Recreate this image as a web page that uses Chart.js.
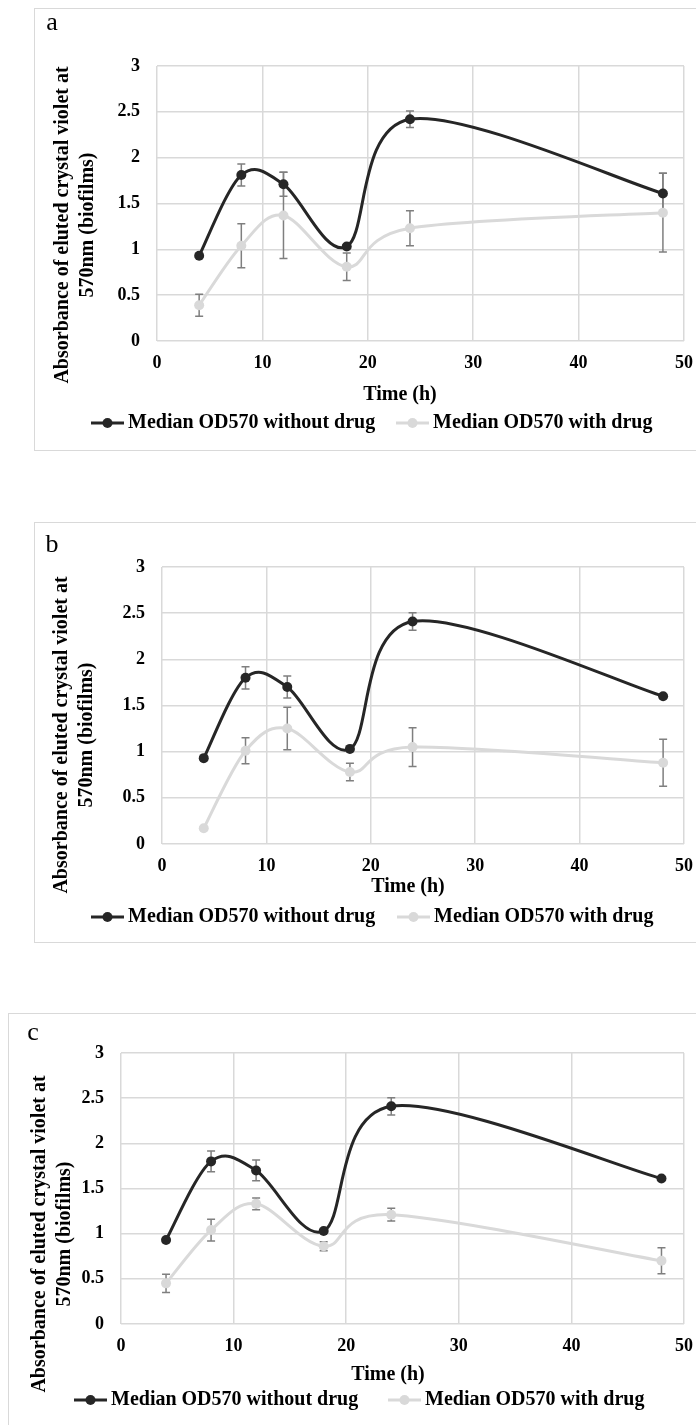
<!DOCTYPE html>
<html>
<head>
<meta charset="utf-8">
<script src="https://cdn.jsdelivr.net/npm/chart.js@4.4.0/dist/chart.umd.min.js"></script>
<style>
  html, body { margin: 0; padding: 0; background: #fff; overflow: hidden; }
  body { width: 696px; height: 1425px; position: relative; }
  .frame { position: absolute; border: 1.5px solid #d9d9d9; box-sizing: border-box; }
  canvas { position: absolute; }
</style>
</head>
<body>
<div class="frame" style="left:34px;top:8px;width:700px;height:443px"></div>
<canvas id="chartA" width="676" height="442" style="left:34px;top:8px"></canvas>
<div class="frame" style="left:34px;top:522px;width:700px;height:421px"></div>
<canvas id="chartB" width="676" height="420" style="left:34px;top:522px"></canvas>
<div class="frame" style="left:8px;top:1013px;width:720px;height:500px"></div>
<canvas id="chartC" width="702" height="420" style="left:8px;top:1013px"></canvas>

<script>
// sampling times (h) and axis ticks
const hours = [4, 8, 12, 18, 24, 48];
const xTicks = [0, 10, 20, 30, 40, 50];
const yTicks = [0, 0.5, 1, 1.5, 2, 2.5, 3];

const seriesNames = ['Median OD570 without drug', 'Median OD570 with drug'];
const yTitleLines = ['Absorbance of eluted crystal violet at', '570nm (biofilms)'];
const xTitle = 'Time (h)';

// panel a
const noDrugA = [0.93, 1.81, 1.71, 1.03, 2.42, 1.61];
const noDrugErrA = [0, 0.12, 0.13, 0, 0.09, 0.22];
const drugA = [0.39, 1.04, 1.37, 0.81, 1.23, 1.40];
const drugErrA = [0.12, 0.24, 0.47, 0.15, 0.19, 0.43];

// panel b
const noDrugB = [0.93, 1.80, 1.70, 1.03, 2.41, 1.60];
const noDrugErrB = [0, 0.12, 0.12, 0, 0.095, 0];
const drugB = [0.17, 1.01, 1.25, 0.78, 1.05, 0.88];
const drugErrB = [0, 0.14, 0.23, 0.095, 0.21, 0.255];

// panel c
const noDrugC = [0.93, 1.80, 1.70, 1.03, 2.41, 1.61];
const noDrugErrC = [0, 0.115, 0.115, 0, 0.095, 0];
const drugC = [0.45, 1.04, 1.33, 0.86, 1.21, 0.70];
const drugErrC = [0.10, 0.12, 0.065, 0.05, 0.07, 0.145];

const SERIF = '"Liberation Serif", "Times New Roman", serif';
const DARK = '#262626';
const LIGHT = '#d9d9d9';
const GRID = '#d9d9d9';

// spreadsheet-style smoothing: each control point sits 1/6 of the
// neighbour-to-neighbour chord away from its point (ends reuse themselves)
const smoothLinePlugin = {
  id: 'smoothLine',
  beforeDatasetDraw(chart, args) {
    const meta = args.meta;
    const line = meta.dataset;
    const pts = meta.data;
    if (!line || pts.length < 2) return;
    line.updateControlPoints(chart.chartArea, 'x');
    pts.forEach((p, i) => {
      const prev = pts[i - 1] || p;
      const next = pts[i + 1] || p;
      const dx = (next.x - prev.x) / 6;
      const dy = (next.y - prev.y) / 6;
      p.cp1x = p.x - dx; p.cp1y = p.y - dy;
      p.cp2x = p.x + dx; p.cp2y = p.y + dy;
    });
    line._path = undefined;
  }
};

// vertical error bars with caps, drawn under the series
const errorBarPlugin = {
  id: 'errorBars',
  beforeDatasetsDraw(chart) {
    const { ctx, scales: { x, y } } = chart;
    ctx.save();
    ctx.strokeStyle = '#7f7f7f';
    ctx.lineWidth = 1.5;
    chart.data.datasets.forEach(ds => {
      (ds.errors || []).forEach((e, i) => {
        if (!e) return;
        const pt = ds.data[i];
        const px = x.getPixelForValue(pt.x);
        const top = y.getPixelForValue(pt.y + e);
        const bot = y.getPixelForValue(pt.y - e);
        ctx.beginPath();
        ctx.moveTo(px, top); ctx.lineTo(px, bot);
        ctx.moveTo(px - 4, top); ctx.lineTo(px + 4, top);
        ctx.moveTo(px - 4, bot); ctx.lineTo(px + 4, bot);
        ctx.stroke();
      });
    });
    ctx.restore();
  }
};

// panel letter, axis titles and the line+marker legend
const panelTextPlugin = {
  id: 'panelText',
  afterDraw(chart, args, opts) {
    const ctx = chart.ctx;
    ctx.save();
    ctx.fillStyle = '#000';
    ctx.textBaseline = 'middle';
    ctx.textAlign = 'center';

    ctx.font = `26px ${SERIF}`;
    ctx.fillText(opts.letter, opts.letterPos[0], opts.letterPos[1]);

    ctx.font = `bold 20px ${SERIF}`;
    yTitleLines.forEach((line, i) => {
      ctx.save();
      ctx.translate(opts.yTitleX[i], opts.yTitleY);
      ctx.rotate(-Math.PI / 2);
      ctx.fillText(line, 0, 0);
      ctx.restore();
    });
    ctx.fillText(xTitle, opts.xTitlePos[0], opts.xTitlePos[1]);

    ctx.textAlign = 'left';
    chart.data.datasets.forEach((ds, i) => {
      const x0 = opts.legendX[i];
      const ly = opts.legendY;
      ctx.strokeStyle = ds.borderColor;
      ctx.lineWidth = 3;
      ctx.beginPath();
      ctx.moveTo(x0, ly);
      ctx.lineTo(x0 + 33, ly);
      ctx.stroke();
      ctx.fillStyle = ds.borderColor;
      ctx.beginPath();
      ctx.arc(x0 + 16.5, ly, 5, 0, Math.PI * 2);
      ctx.fill();
      ctx.fillStyle = '#000';
      ctx.fillText(ds.label, x0 + 37, ly);
    });
    ctx.restore();
  }
};

function toPoints(values) {
  return hours.map((h, i) => ({ x: h, y: values[i] }));
}

function makePanel(id, series, layout) {
  const canvas = document.getElementById(id);
  const W = canvas.width, H = canvas.height;
  const Y_W = 40, X_H = 40;
  const area = layout.area; // [left, top, right, bottom] of the plot in canvas px
  const tickFont = { family: SERIF, size: 18, weight: 'bold' };

  return new Chart(canvas, {
    type: 'line',
    data: {
      datasets: series.map((s, i) => ({
        label: seriesNames[i],
        data: toPoints(s.values),
        errors: s.errors,
        borderColor: s.color,
        backgroundColor: s.color,
        pointBackgroundColor: s.color,
        pointBorderWidth: 0,
        pointRadius: 5,
        borderWidth: 3,
        tension: 0.4,
        fill: false
      }))
    },
    options: {
      responsive: false,
      animation: false,
      devicePixelRatio: 1,
      layout: {
        padding: {
          left: area[0] - Y_W,
          top: area[1],
          right: W - area[2],
          bottom: H - area[3] - X_H
        }
      },
      scales: {
        x: {
          type: 'linear',
          min: xTicks[0],
          max: xTicks[xTicks.length - 1],
          afterBuildTicks: scale => { scale.ticks = xTicks.map(v => ({ value: v })); },
          afterFit: scale => { scale.height = X_H; },
          grid: { color: GRID, lineWidth: 1.5, drawTicks: false },
          border: { display: false },
          ticks: { color: '#000', font: tickFont, padding: 12, maxRotation: 0, callback: v => String(v) }
        },
        y: {
          min: yTicks[0],
          max: yTicks[yTicks.length - 1],
          afterBuildTicks: scale => { scale.ticks = yTicks.map(v => ({ value: v })); },
          afterFit: scale => { scale.width = Y_W; },
          grid: { color: GRID, lineWidth: 1.5, drawTicks: false },
          border: { display: false },
          ticks: { color: '#000', font: tickFont, padding: 17, callback: v => String(v) }
        }
      },
      plugins: {
        legend: { display: false },
        tooltip: { enabled: false },
        panelText: layout.text
      }
    },
    plugins: [smoothLinePlugin, errorBarPlugin, panelTextPlugin]
  });
}

makePanel('chartA', [
  { values: noDrugA, errors: noDrugErrA, color: DARK },
  { values: drugA, errors: drugErrA, color: LIGHT }
], {
  area: [123, 58, 650, 333],
  text: {
    letter: 'a', letterPos: [18, 15],
    yTitleX: [28.5, 53.5], yTitleY: 217,
    xTitlePos: [366, 387],
    legendX: [57, 362], legendY: 415
  }
});

makePanel('chartB', [
  { values: noDrugB, errors: noDrugErrB, color: DARK },
  { values: drugB, errors: drugErrB, color: LIGHT }
], {
  area: [128, 45, 650, 322],
  text: {
    letter: 'b', letterPos: [18, 23],
    yTitleX: [28, 53], yTitleY: 213,
    xTitlePos: [374, 365],
    legendX: [57, 363], legendY: 395
  }
});

makePanel('chartC', [
  { values: noDrugC, errors: noDrugErrC, color: DARK },
  { values: drugC, errors: drugErrC, color: LIGHT }
], {
  area: [113, 40, 676, 311],
  text: {
    letter: 'c', letterPos: [25, 20],
    yTitleX: [32, 57], yTitleY: 221,
    xTitlePos: [380, 362],
    legendX: [66, 380], legendY: 387
  }
});
</script>
</body>
</html>
